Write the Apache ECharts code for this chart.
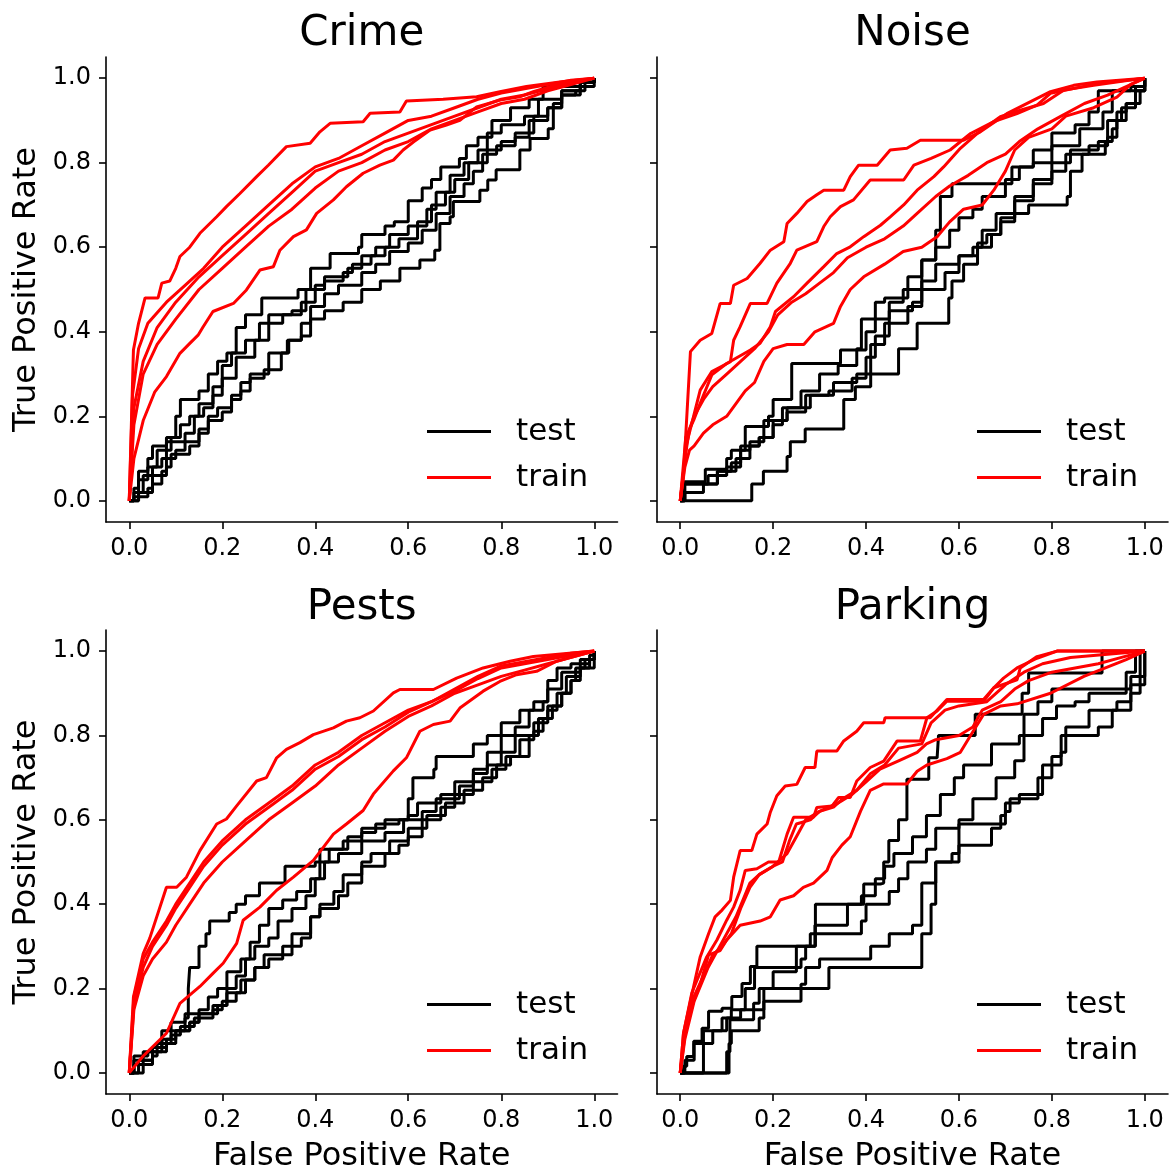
<!DOCTYPE html>
<html>
<head>
<meta charset="utf-8">
<script src="https://cdn.jsdelivr.net/npm/echarts@6/dist/echarts.min.js"></script>
<style>
  html, body { margin: 0; padding: 0; background: #ffffff; }
  #chart { width: 1172px; height: 1174px; }
</style>
</head>
<body>
<div id="chart"></div>
<script>
// ROC curves of five folds per category: [falsePositiveRate, truePositiveRate]
const tickValues = [0, 0.2, 0.4, 0.6, 0.8, 1.0];
const panelTitles = ['Crime', 'Noise', 'Pests', 'Parking'];

const crimeTest = [
  [[0,0],[0.01,0.03],[0.02,0.07],[0.04,0.1],[0.05,0.13],[0.08,0.15],[0.1,0.2],[0.11,0.24],[0.15,0.26],[0.17,0.3],[0.19,0.33],[0.21,0.35],[0.23,0.41],[0.25,0.44],[0.285,0.48],[0.363,0.5],[0.39,0.55],[0.432,0.585],[0.493,0.6],[0.5,0.63],[0.55,0.65],[0.57,0.66],[0.6,0.71],[0.63,0.74],[0.65,0.76],[0.67,0.79],[0.71,0.81],[0.725,0.84],[0.75,0.86],[0.78,0.9],[0.82,0.93],[0.86,0.95],[0.89,0.98],[0.97,0.99],[1,1]],
  [[0,0],[0.02,0.02],[0.03,0.06],[0.05,0.08],[0.06,0.12],[0.09,0.15],[0.11,0.18],[0.13,0.2],[0.15,0.23],[0.18,0.27],[0.2,0.32],[0.22,0.35],[0.25,0.38],[0.28,0.42],[0.33,0.44],[0.37,0.47],[0.4,0.51],[0.42,0.53],[0.47,0.55],[0.5,0.58],[0.53,0.6],[0.56,0.63],[0.6,0.65],[0.64,0.69],[0.66,0.73],[0.69,0.77],[0.72,0.8],[0.75,0.83],[0.77,0.87],[0.8,0.89],[0.85,0.91],[0.88,0.95],[0.93,0.97],[0.97,0.99],[1,1]],
  [[0,0],[0.01,0.01],[0.02,0.05],[0.04,0.08],[0.07,0.1],[0.08,0.14],[0.12,0.16],[0.14,0.2],[0.16,0.22],[0.18,0.25],[0.2,0.29],[0.23,0.34],[0.27,0.38],[0.3,0.44],[0.35,0.45],[0.38,0.5],[0.42,0.52],[0.46,0.54],[0.48,0.56],[0.52,0.58],[0.55,0.6],[0.58,0.62],[0.62,0.66],[0.65,0.7],[0.68,0.73],[0.7,0.76],[0.73,0.8],[0.77,0.83],[0.8,0.85],[0.83,0.86],[0.86,0.9],[0.9,0.93],[0.93,0.96],[0.97,0.98],[1,1]],
  [[0,0],[0.02,0.01],[0.04,0.03],[0.05,0.06],[0.08,0.08],[0.09,0.11],[0.13,0.13],[0.15,0.16],[0.17,0.19],[0.2,0.21],[0.22,0.25],[0.24,0.28],[0.26,0.3],[0.3,0.31],[0.327,0.35],[0.343,0.38],[0.37,0.39],[0.39,0.43],[0.42,0.45],[0.46,0.47],[0.5,0.5],[0.54,0.52],[0.582,0.55],[0.625,0.57],[0.657,0.593],[0.668,0.656],[0.69,0.672],[0.697,0.708],[0.754,0.735],[0.771,0.759],[0.789,0.783],[0.84,0.83],[0.862,0.857],[0.901,0.88],[0.912,0.94],[0.93,0.97],[0.97,0.99],[1,1]],
  [[0,0],[0.01,0.02],[0.03,0.02],[0.05,0.04],[0.07,0.07],[0.08,0.1],[0.1,0.12],[0.12,0.14],[0.15,0.17],[0.17,0.2],[0.19,0.22],[0.22,0.24],[0.24,0.26],[0.26,0.29],[0.29,0.31],[0.3,0.35],[0.34,0.38],[0.37,0.42],[0.39,0.46],[0.42,0.49],[0.45,0.51],[0.5,0.54],[0.53,0.56],[0.56,0.59],[0.6,0.61],[0.63,0.64],[0.66,0.68],[0.69,0.72],[0.72,0.75],[0.74,0.78],[0.76,0.82],[0.79,0.84],[0.83,0.87],[0.87,0.91],[0.9,0.93],[0.93,0.96],[0.96,0.97],[0.98,0.99],[1,1]]
];
const crimeTrain = [
  [[0,0],[0.009,0.357],[0.02,0.42],[0.034,0.48],[0.062,0.48],[0.07,0.515],[0.087,0.52],[0.1,0.55],[0.109,0.578],[0.13,0.6],[0.152,0.633],[0.188,0.672],[0.209,0.696],[0.238,0.727],[0.274,0.767],[0.299,0.794],[0.338,0.838],[0.389,0.846],[0.41,0.873],[0.432,0.893],[0.503,0.897],[0.518,0.917],[0.582,0.92],[0.596,0.946],[0.675,0.95],[0.747,0.956],[0.797,0.968],[0.854,0.98],[0.926,0.991],[1,1]],
  [[0,0],[0.007,0.25],[0.02,0.36],[0.04,0.42],[0.08,0.47],[0.12,0.51],[0.16,0.55],[0.2,0.6],[0.25,0.65],[0.3,0.7],[0.35,0.75],[0.4,0.79],[0.45,0.81],[0.5,0.84],[0.55,0.87],[0.6,0.9],[0.65,0.91],[0.7,0.93],[0.75,0.95],[0.8,0.965],[0.85,0.975],[0.9,0.985],[0.95,0.995],[1,1]],
  [[0,0],[0.01,0.22],[0.03,0.33],[0.06,0.41],[0.1,0.47],[0.15,0.53],[0.2,0.58],[0.25,0.63],[0.3,0.68],[0.35,0.73],[0.4,0.78],[0.45,0.8],[0.5,0.82],[0.55,0.85],[0.6,0.87],[0.65,0.89],[0.7,0.91],[0.75,0.93],[0.8,0.95],[0.85,0.96],[0.9,0.975],[0.95,0.99],[1,1]],
  [[0,0],[0.01,0.18],[0.03,0.3],[0.06,0.37],[0.1,0.43],[0.15,0.5],[0.2,0.55],[0.25,0.6],[0.3,0.65],[0.35,0.69],[0.4,0.74],[0.45,0.78],[0.5,0.8],[0.55,0.83],[0.6,0.85],[0.65,0.88],[0.7,0.9],[0.75,0.92],[0.8,0.94],[0.85,0.95],[0.9,0.97],[0.95,0.985],[1,1]],
  [[0,0],[0.01,0.1],[0.03,0.19],[0.055,0.258],[0.08,0.294],[0.109,0.349],[0.127,0.369],[0.148,0.392],[0.159,0.412],[0.18,0.448],[0.224,0.467],[0.252,0.499],[0.281,0.546],[0.31,0.554],[0.324,0.593],[0.353,0.625],[0.381,0.641],[0.403,0.68],[0.439,0.712],[0.467,0.743],[0.503,0.775],[0.539,0.794],[0.568,0.806],[0.589,0.83],[0.611,0.849],[0.647,0.877],[0.682,0.889],[0.711,0.9],[0.747,0.932],[0.797,0.948],[0.84,0.956],[0.869,0.968],[0.926,0.987],[1,1]]
];

const noiseTest = [
  [[0,0],[0.01,0.04],[0.05,0.04],[0.08,0.07],[0.12,0.1],[0.15,0.13],[0.17,0.15],[0.2,0.18],[0.22,0.22],[0.26,0.26],[0.3,0.3],[0.34,0.32],[0.38,0.36],[0.39,0.43],[0.43,0.43],[0.45,0.47],[0.48,0.5],[0.52,0.57],[0.55,0.64],[0.56,0.72],[0.585,0.75],[0.714,0.79],[0.76,0.8],[0.8,0.84],[0.86,0.88],[0.91,0.92],[0.93,0.97],[0.97,0.98],[1,1]],
  [[0,0],[0.154,0.04],[0.179,0.07],[0.23,0.105],[0.237,0.14],[0.269,0.17],[0.352,0.24],[0.377,0.27],[0.41,0.3],[0.47,0.36],[0.51,0.42],[0.578,0.48],[0.585,0.52],[0.61,0.56],[0.64,0.6],[0.67,0.63],[0.69,0.66],[0.72,0.68],[0.75,0.7],[0.833,0.72],[0.84,0.78],[0.865,0.82],[0.915,0.85],[0.93,0.88],[0.94,0.92],[0.96,0.94],[0.98,0.97],[1,1]],
  [[0,0],[0.008,0.045],[0.054,0.075],[0.1,0.1],[0.11,0.12],[0.14,0.176],[0.19,0.2],[0.2,0.24],[0.24,0.325],[0.345,0.357],[0.4,0.4],[0.42,0.47],[0.44,0.48],[0.49,0.53],[0.52,0.57],[0.55,0.6],[0.58,0.64],[0.6,0.67],[0.63,0.69],[0.65,0.72],[0.7,0.76],[0.73,0.79],[0.76,0.83],[0.8,0.87],[0.85,0.89],[0.88,0.92],[0.9,0.97],[0.98,0.98],[1,1]],
  [[0,0],[0.01,0.02],[0.05,0.04],[0.08,0.07],[0.11,0.09],[0.13,0.13],[0.17,0.15],[0.2,0.19],[0.23,0.21],[0.27,0.25],[0.32,0.26],[0.37,0.29],[0.4,0.34],[0.42,0.39],[0.45,0.45],[0.5,0.47],[0.52,0.52],[0.55,0.56],[0.6,0.58],[0.63,0.6],[0.65,0.64],[0.68,0.68],[0.72,0.71],[0.76,0.75],[0.8,0.8],[0.84,0.83],[0.9,0.85],[0.92,0.9],[0.95,0.93],[0.98,0.97],[1,1]],
  [[0,0],[0.005,0.04],[0.06,0.06],[0.1,0.08],[0.13,0.12],[0.15,0.14],[0.18,0.19],[0.23,0.22],[0.28,0.25],[0.33,0.28],[0.38,0.3],[0.41,0.37],[0.44,0.42],[0.49,0.46],[0.52,0.5],[0.57,0.54],[0.6,0.58],[0.64,0.61],[0.66,0.63],[0.69,0.67],[0.72,0.72],[0.76,0.76],[0.8,0.78],[0.83,0.82],[0.88,0.84],[0.92,0.86],[0.94,0.9],[0.96,0.94],[0.99,0.97],[1,1]]
];
const noiseTrain = [
  [[0,0],[0.007,0.06],[0.022,0.353],[0.043,0.38],[0.068,0.396],[0.086,0.467],[0.108,0.467],[0.115,0.51],[0.144,0.526],[0.172,0.562],[0.194,0.593],[0.223,0.613],[0.23,0.656],[0.251,0.68],[0.273,0.708],[0.294,0.724],[0.309,0.735],[0.352,0.735],[0.366,0.767],[0.384,0.794],[0.424,0.794],[0.452,0.83],[0.488,0.834],[0.517,0.853],[0.61,0.853],[0.646,0.873],[0.703,0.916],[0.797,0.968],[0.847,0.983],[0.897,0.991],[1,1]],
  [[0,0],[0.014,0.136],[0.043,0.262],[0.068,0.306],[0.108,0.329],[0.115,0.38],[0.129,0.412],[0.151,0.467],[0.187,0.467],[0.208,0.515],[0.237,0.562],[0.251,0.593],[0.294,0.613],[0.309,0.649],[0.323,0.672],[0.345,0.696],[0.373,0.712],[0.409,0.759],[0.481,0.759],[0.503,0.794],[0.54,0.81],[0.581,0.83],[0.625,0.869],[0.675,0.897],[0.725,0.916],[0.768,0.936],[0.797,0.964],[0.897,0.987],[1,1]],
  [[0,0],[0.012,0.15],[0.029,0.191],[0.043,0.231],[0.068,0.298],[0.1,0.325],[0.151,0.357],[0.172,0.373],[0.194,0.412],[0.205,0.448],[0.244,0.483],[0.273,0.515],[0.309,0.554],[0.337,0.585],[0.366,0.601],[0.395,0.625],[0.431,0.652],[0.452,0.672],[0.481,0.7],[0.51,0.735],[0.546,0.767],[0.567,0.79],[0.603,0.834],[0.639,0.869],[0.689,0.909],[0.732,0.924],[0.782,0.94],[0.826,0.972],[0.89,0.983],[1,1]],
  [[0,0],[0.01,0.1],[0.02,0.17],[0.03,0.2],[0.05,0.24],[0.07,0.27],[0.1,0.3],[0.13,0.33],[0.16,0.36],[0.19,0.4],[0.21,0.44],[0.24,0.47],[0.27,0.49],[0.3,0.515],[0.33,0.54],[0.36,0.575],[0.4,0.6],[0.44,0.62],[0.48,0.65],[0.51,0.68],[0.55,0.72],[0.58,0.745],[0.62,0.77],[0.66,0.8],[0.7,0.82],[0.73,0.85],[0.77,0.88],[0.82,0.91],[0.87,0.94],[0.92,0.96],[0.96,0.98],[1,1]],
  [[0,0],[0.01,0.08],[0.02,0.12],[0.03,0.13],[0.05,0.16],[0.07,0.18],[0.1,0.2],[0.12,0.23],[0.14,0.26],[0.16,0.28],[0.18,0.33],[0.2,0.36],[0.23,0.37],[0.266,0.37],[0.29,0.4],[0.33,0.42],[0.345,0.46],[0.366,0.5],[0.395,0.53],[0.44,0.56],[0.48,0.59],[0.52,0.6],[0.553,0.625],[0.58,0.66],[0.61,0.69],[0.65,0.7],[0.675,0.735],[0.7,0.78],[0.72,0.83],[0.75,0.86],[0.8,0.88],[0.83,0.91],[0.89,0.93],[0.94,0.955],[0.97,0.985],[1,1]]
];

const pestsTest = [
  [[0,0],[0.01,0.04],[0.04,0.05],[0.07,0.08],[0.09,0.1],[0.12,0.13],[0.127,0.2],[0.13,0.25],[0.15,0.3],[0.165,0.33],[0.173,0.36],[0.215,0.38],[0.23,0.4],[0.25,0.42],[0.28,0.45],[0.335,0.49],[0.4,0.5],[0.41,0.53],[0.45,0.53],[0.46,0.55],[0.5,0.57],[0.53,0.59],[0.58,0.6],[0.6,0.65],[0.61,0.7],[0.655,0.72],[0.66,0.75],[0.73,0.75],[0.74,0.78],[0.77,0.8],[0.8,0.83],[0.84,0.86],[0.87,0.88],[0.9,0.93],[0.92,0.96],[0.95,0.97],[0.99,0.99],[1,1]],
  [[0,0],[0.01,0.02],[0.03,0.05],[0.05,0.06],[0.07,0.1],[0.09,0.12],[0.12,0.14],[0.15,0.15],[0.17,0.18],[0.19,0.2],[0.21,0.24],[0.24,0.27],[0.26,0.31],[0.28,0.35],[0.3,0.39],[0.33,0.41],[0.36,0.43],[0.39,0.46],[0.41,0.5],[0.43,0.53],[0.47,0.56],[0.5,0.58],[0.55,0.6],[0.6,0.61],[0.62,0.64],[0.67,0.66],[0.7,0.69],[0.74,0.72],[0.77,0.76],[0.8,0.8],[0.83,0.82],[0.86,0.86],[0.89,0.88],[0.9,0.91],[0.93,0.95],[0.97,0.98],[1,1]],
  [[0,0],[0.02,0.03],[0.04,0.03],[0.05,0.06],[0.08,0.07],[0.1,0.1],[0.13,0.12],[0.15,0.14],[0.19,0.16],[0.21,0.2],[0.23,0.23],[0.25,0.27],[0.27,0.3],[0.3,0.32],[0.32,0.36],[0.35,0.39],[0.38,0.42],[0.4,0.46],[0.42,0.5],[0.45,0.52],[0.5,0.55],[0.55,0.57],[0.59,0.6],[0.63,0.62],[0.66,0.65],[0.71,0.68],[0.74,0.71],[0.77,0.73],[0.8,0.76],[0.83,0.8],[0.87,0.83],[0.9,0.86],[0.92,0.9],[0.94,0.94],[0.97,0.96],[0.99,0.98],[1,1]],
  [[0,0],[0.03,0.02],[0.05,0.04],[0.06,0.07],[0.09,0.09],[0.11,0.11],[0.14,0.13],[0.18,0.15],[0.2,0.17],[0.23,0.19],[0.25,0.22],[0.27,0.25],[0.29,0.28],[0.33,0.3],[0.35,0.33],[0.39,0.37],[0.41,0.4],[0.44,0.43],[0.46,0.47],[0.5,0.5],[0.52,0.52],[0.56,0.55],[0.6,0.58],[0.64,0.61],[0.68,0.64],[0.72,0.67],[0.76,0.7],[0.79,0.73],[0.82,0.75],[0.86,0.8],[0.88,0.84],[0.9,0.87],[0.93,0.9],[0.95,0.93],[0.97,0.96],[1,1]],
  [[0,0],[0.01,0.03],[0.05,0.05],[0.08,0.08],[0.1,0.1],[0.13,0.12],[0.15,0.14],[0.18,0.16],[0.21,0.19],[0.24,0.22],[0.27,0.25],[0.3,0.27],[0.33,0.28],[0.35,0.3],[0.37,0.32],[0.39,0.37],[0.41,0.39],[0.45,0.42],[0.47,0.45],[0.5,0.49],[0.55,0.52],[0.58,0.54],[0.6,0.56],[0.63,0.6],[0.67,0.63],[0.7,0.66],[0.74,0.69],[0.78,0.72],[0.81,0.75],[0.84,0.79],[0.87,0.81],[0.89,0.84],[0.91,0.87],[0.93,0.9],[0.95,0.93],[0.96,0.96],[0.98,0.98],[1,1]]
];
const pestsTrain = [
  [[0,0],[0.009,0.18],[0.03,0.283],[0.044,0.319],[0.08,0.44],[0.102,0.44],[0.123,0.464],[0.152,0.527],[0.188,0.59],[0.209,0.602],[0.231,0.633],[0.274,0.692],[0.295,0.7],[0.317,0.747],[0.338,0.767],[0.367,0.783],[0.396,0.802],[0.439,0.818],[0.467,0.834],[0.496,0.842],[0.525,0.858],[0.568,0.901],[0.582,0.909],[0.654,0.909],[0.704,0.936],[0.761,0.96],[0.819,0.976],[0.869,0.987],[1,1]],
  [[0,0],[0.01,0.18],[0.03,0.27],[0.05,0.31],[0.08,0.36],[0.1,0.4],[0.13,0.45],[0.16,0.5],[0.2,0.55],[0.25,0.6],[0.3,0.64],[0.35,0.68],[0.4,0.73],[0.45,0.76],[0.5,0.8],[0.55,0.83],[0.6,0.86],[0.65,0.88],[0.7,0.91],[0.75,0.94],[0.8,0.965],[0.85,0.975],[0.9,0.985],[0.95,0.995],[1,1]],
  [[0,0],[0.01,0.16],[0.03,0.25],[0.05,0.3],[0.08,0.35],[0.1,0.39],[0.13,0.44],[0.16,0.49],[0.2,0.54],[0.25,0.59],[0.3,0.63],[0.35,0.67],[0.4,0.72],[0.45,0.75],[0.5,0.79],[0.55,0.82],[0.6,0.855],[0.65,0.88],[0.7,0.905],[0.75,0.935],[0.8,0.96],[0.85,0.97],[0.9,0.98],[0.95,0.99],[1,1]],
  [[0,0],[0.01,0.15],[0.03,0.23],[0.05,0.27],[0.08,0.31],[0.1,0.35],[0.13,0.4],[0.16,0.45],[0.2,0.5],[0.25,0.55],[0.3,0.6],[0.35,0.64],[0.4,0.68],[0.45,0.73],[0.5,0.77],[0.55,0.81],[0.6,0.845],[0.65,0.87],[0.7,0.9],[0.75,0.92],[0.8,0.94],[0.85,0.955],[0.9,0.97],[0.95,0.985],[1,1]],
  [[0,0],[0.03,0.04],[0.08,0.094],[0.109,0.165],[0.152,0.205],[0.18,0.236],[0.202,0.26],[0.231,0.307],[0.245,0.362],[0.281,0.393],[0.317,0.433],[0.353,0.464],[0.396,0.504],[0.439,0.566],[0.467,0.59],[0.503,0.622],[0.525,0.661],[0.568,0.716],[0.596,0.747],[0.625,0.81],[0.654,0.826],[0.69,0.834],[0.711,0.865],[0.761,0.905],[0.797,0.928],[0.833,0.944],[0.876,0.952],[0.919,0.976],[1,1]]
];

const parkingTest = [
  [[0,0],[0.007,0.016],[0.014,0.039],[0.029,0.075],[0.047,0.106],[0.061,0.146],[0.09,0.153],[0.111,0.181],[0.133,0.212],[0.151,0.252],[0.165,0.3],[0.291,0.4],[0.395,0.448],[0.431,0.45],[0.438,0.5],[0.449,0.551],[0.47,0.6],[0.488,0.696],[0.535,0.747],[0.553,0.75],[0.556,0.8],[0.635,0.85],[0.736,0.9],[0.75,0.948],[0.908,1],[1,1]],
  [[0,0],[0.05,0.07],[0.07,0.1],[0.1,0.13],[0.13,0.15],[0.18,0.2],[0.2,0.24],[0.25,0.3],[0.29,0.35],[0.36,0.4],[0.39,0.42],[0.42,0.46],[0.44,0.49],[0.46,0.52],[0.5,0.56],[0.53,0.61],[0.56,0.66],[0.59,0.7],[0.61,0.73],[0.67,0.78],[0.73,0.8],[0.74,0.85],[0.77,0.88],[0.8,0.91],[0.97,0.94],[0.99,1],[1,1]],
  [[0,0],[0.105,0.07],[0.11,0.1],[0.17,0.13],[0.18,0.17],[0.25,0.17],[0.26,0.21],[0.27,0.25],[0.3,0.27],[0.4,0.27],[0.41,0.3],[0.45,0.33],[0.5,0.35],[0.52,0.45],[0.55,0.5],[0.58,0.5],[0.6,0.54],[0.67,0.58],[0.69,0.61],[0.7,0.64],[0.73,0.66],[0.78,0.7],[0.8,0.75],[0.82,0.8],[0.9,0.82],[0.93,0.86],[0.97,0.9],[0.99,0.94],[1,1]],
  [[0,0],[0.1,0.05],[0.107,0.126],[0.158,0.165],[0.17,0.2],[0.27,0.2],[0.32,0.25],[0.52,0.33],[0.54,0.4],[0.55,0.5],[0.585,0.52],[0.6,0.59],[0.7,0.62],[0.71,0.65],[0.77,0.7],[0.78,0.73],[0.82,0.76],[0.83,0.82],[0.88,0.86],[0.94,0.88],[0.97,0.92],[1,0.94],[1,1]],
  [[0,0],[0.01,0.03],[0.03,0.07],[0.05,0.1],[0.09,0.13],[0.11,0.15],[0.14,0.2],[0.16,0.25],[0.26,0.27],[0.27,0.3],[0.28,0.33],[0.39,0.36],[0.4,0.4],[0.45,0.43],[0.47,0.46],[0.49,0.5],[0.53,0.53],[0.55,0.58],[0.6,0.6],[0.63,0.65],[0.68,0.7],[0.72,0.74],[0.74,0.8],[0.78,0.84],[0.81,0.87],[0.85,0.88],[0.88,0.9],[0.96,0.95],[0.98,1],[1,1]]
];
const parkingTrain = [
  [[0,0],[0.007,0.094],[0.029,0.205],[0.043,0.275],[0.061,0.33],[0.075,0.37],[0.09,0.386],[0.108,0.409],[0.115,0.464],[0.129,0.527],[0.154,0.527],[0.165,0.566],[0.187,0.59],[0.194,0.618],[0.208,0.657],[0.226,0.68],[0.251,0.684],[0.269,0.724],[0.29,0.724],[0.294,0.763],[0.337,0.763],[0.352,0.787],[0.38,0.81],[0.395,0.83],[0.438,0.83],[0.441,0.842],[0.538,0.842],[0.574,0.885],[0.653,0.885],[0.675,0.913],[0.725,0.932],[0.732,0.96],[0.768,0.987],[0.811,1],[1,1]],
  [[0,0],[0.007,0.094],[0.025,0.19],[0.057,0.275],[0.079,0.315],[0.1,0.362],[0.115,0.393],[0.129,0.433],[0.14,0.48],[0.165,0.484],[0.19,0.5],[0.212,0.5],[0.23,0.566],[0.244,0.606],[0.287,0.606],[0.294,0.629],[0.327,0.633],[0.341,0.653],[0.366,0.653],[0.38,0.692],[0.409,0.724],[0.438,0.739],[0.467,0.787],[0.517,0.787],[0.531,0.842],[0.553,0.858],[0.574,0.881],[0.653,0.881],[0.675,0.913],[0.696,0.936],[0.725,0.96],[0.768,0.983],[0.811,1],[1,1]],
  [[0,0],[0.01,0.08],[0.03,0.17],[0.06,0.25],[0.085,0.3],[0.105,0.34],[0.12,0.37],[0.135,0.41],[0.15,0.45],[0.17,0.47],[0.2,0.49],[0.22,0.5],[0.235,0.55],[0.25,0.59],[0.28,0.6],[0.3,0.62],[0.33,0.63],[0.35,0.65],[0.38,0.67],[0.41,0.71],[0.44,0.73],[0.47,0.77],[0.52,0.78],[0.54,0.83],[0.57,0.86],[0.6,0.87],[0.66,0.88],[0.7,0.92],[0.74,0.95],[0.78,0.97],[0.84,0.985],[1,1]],
  [[0,0],[0.01,0.1],[0.025,0.17],[0.05,0.23],[0.07,0.28],[0.09,0.3],[0.11,0.33],[0.13,0.39],[0.15,0.44],[0.17,0.47],[0.2,0.49],[0.23,0.52],[0.25,0.56],[0.27,0.6],[0.3,0.62],[0.34,0.64],[0.37,0.66],[0.4,0.69],[0.43,0.72],[0.47,0.74],[0.51,0.76],[0.53,0.78],[0.55,0.79],[0.6,0.8],[0.63,0.82],[0.65,0.86],[0.69,0.88],[0.72,0.91],[0.75,0.93],[0.8,0.95],[0.85,0.96],[0.9,0.97],[0.95,0.985],[1,1]],
  [[0,0],[0.01,0.09],[0.022,0.15],[0.043,0.21],[0.061,0.28],[0.086,0.29],[0.1,0.315],[0.129,0.35],[0.172,0.36],[0.194,0.37],[0.215,0.41],[0.244,0.42],[0.265,0.44],[0.287,0.45],[0.316,0.48],[0.327,0.51],[0.348,0.54],[0.366,0.56],[0.388,0.62],[0.409,0.67],[0.438,0.685],[0.488,0.685],[0.51,0.715],[0.531,0.73],[0.574,0.745],[0.603,0.76],[0.625,0.8],[0.653,0.85],[0.69,0.87],[0.725,0.875],[0.797,0.9],[0.869,0.94],[0.96,0.98],[1,1]]
];

const testCurves = [crimeTest, noiseTest, pestsTest, parkingTest];
const trainCurves = [crimeTrain, noiseTrain, pestsTrain, parkingTrain];

const FONT = 'DejaVu Sans';
const grids = [
  { left: 106, top: 57, width: 511.5, height: 465 },
  { left: 657, top: 57, width: 511, height: 465 },
  { left: 106, top: 630, width: 511.5, height: 465 },
  { left: 657, top: 630, width: 511, height: 465 }
];
const legendPos = [
  { left: 427, top: 416 },
  { left: 977, top: 416 },
  { left: 427, top: 989 },
  { left: 977, top: 989 }
];

const axisLineStyle = { color: '#000', width: 1.6 };
const fmt = v => v.toFixed(1);

const xAxes = grids.map((g, i) => ({
  type: 'value', gridIndex: i, min: -0.05, max: 1.05,
  name: i >= 2 ? 'False Positive Rate' : '',
  nameLocation: 'middle', nameGap: 47,
  nameTextStyle: { fontFamily: FONT, fontSize: 32, color: '#000' },
  axisLine: { show: true, onZero: false, lineStyle: axisLineStyle },
  axisTick: { show: true, length: 7, lineStyle: axisLineStyle, customValues: tickValues },
  axisLabel: { show: true, margin: 15, fontFamily: FONT, fontSize: 24, color: '#000', customValues: tickValues, formatter: fmt },
  splitLine: { show: false }
}));
const yAxes = grids.map((g, i) => ({
  type: 'value', gridIndex: i, min: -0.05, max: 1.05,
  name: i % 2 === 0 ? 'True Positive Rate' : '',
  nameLocation: 'middle', nameGap: 63,
  nameTextStyle: { fontFamily: FONT, fontSize: 32, color: '#000' },
  axisLine: { show: true, onZero: false, lineStyle: axisLineStyle },
  axisTick: { show: true, length: 7, lineStyle: axisLineStyle, customValues: tickValues },
  axisLabel: { show: i % 2 === 0, margin: 15, fontFamily: FONT, fontSize: 24, color: '#000', customValues: tickValues, formatter: fmt },
  splitLine: { show: false }
}));

const series = [];
testCurves.forEach((curves, p) => {
  curves.forEach(c => series.push({
    type: 'line', name: 'test', xAxisIndex: p, yAxisIndex: p, data: c,
    step: 'end', symbol: 'none', clip: false, z: 2,
    lineStyle: { color: '#000000', width: 3 }, itemStyle: { color: '#000000' }
  }));
});
trainCurves.forEach((curves, p) => {
  curves.forEach(c => series.push({
    type: 'line', name: 'train', xAxisIndex: p, yAxisIndex: p, data: c,
    symbol: 'none', clip: false, z: 3,
    lineStyle: { color: '#ff0000', width: 3 }, itemStyle: { color: '#ff0000' }
  }));
});

const legends = legendPos.map(pos => ({
  left: pos.left, top: pos.top, orient: 'vertical', padding: 0,
  data: ['test', 'train'], icon: 'rect', itemWidth: 64, itemHeight: 3, itemGap: 15,
  selectedMode: false,
  textStyle: { fontFamily: FONT, fontSize: 31, color: '#000', lineHeight: 30, padding: [0, 0, 0, 20] }
}));

const titleCenters = [[361.75, 34], [912.5, 34], [361.75, 608], [912.5, 608]];
const titles = panelTitles.map((t, i) => ({
  type: 'text', x: titleCenters[i][0], y: titleCenters[i][1],
  style: { text: t, align: 'center', verticalAlign: 'middle', font: '42px "DejaVu Sans"', fill: '#000' }
}));

const chart = echarts.init(document.getElementById('chart'), null, { renderer: 'canvas' });
chart.setOption({
  backgroundColor: '#ffffff',
  animation: false,
  grid: grids,
  xAxis: xAxes,
  yAxis: yAxes,
  legend: legends,
  graphic: titles,
  series: series
});
</script>
</body>
</html>
